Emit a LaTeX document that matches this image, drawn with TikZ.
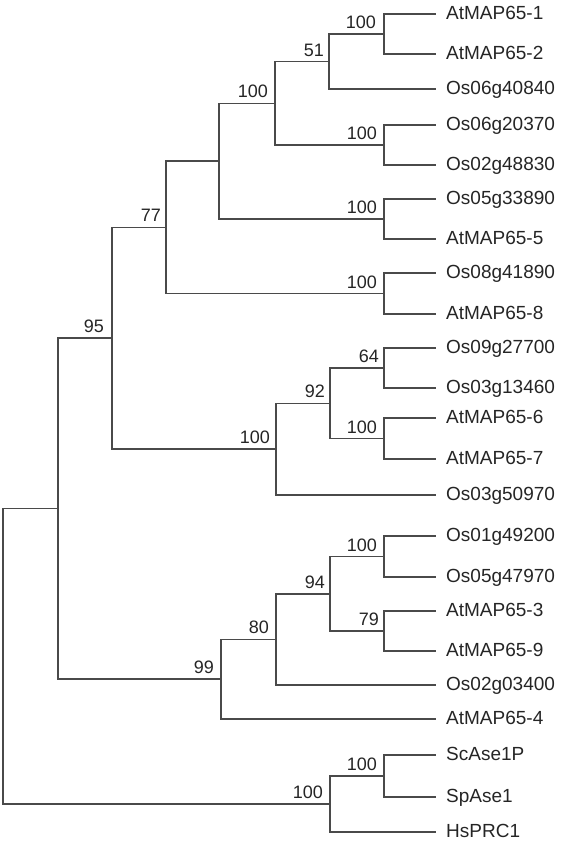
\documentclass[tikz,border=0pt]{standalone}
\usepackage{fontspec}
\setmainfont{Liberation Sans}
\definecolor{lineC}{HTML}{4A4A4A}
\definecolor{textC}{HTML}{252525}
\begin{document}
\begin{tikzpicture}[x=1pt,y=-1pt,
  branch/.style={draw=lineC,line width=1.5pt,line cap=rect},
  leaf/.style={anchor=west,inner xsep=11pt,inner ysep=0pt,text height=13.6pt,text depth=2.6pt,
    font=\fontsize{19}{19}\selectfont,text=textC},
  boot/.style={anchor=base east,inner sep=0pt,font=\fontsize{18}{18}\selectfont,text=textC}]
\useasboundingbox (0,0) rectangle (560,844);
% leaves
\node[leaf] (l1) at (435,14) {AtMAP65-1};
\node[leaf] (l2) at (435,54) {AtMAP65-2};
\node[leaf] (l3) at (435,89) {Os06g40840};
\node[leaf] (l4) at (435,125) {Os06g20370};
\node[leaf] (l5) at (435,165) {Os02g48830};
\node[leaf] (l6) at (435,199) {Os05g33890};
\node[leaf] (l7) at (435,239) {AtMAP65-5};
\node[leaf] (l8) at (435,273) {Os08g41890};
\node[leaf] (l9) at (435,314) {AtMAP65-8};
\node[leaf] (l10) at (435,348) {Os09g27700};
\node[leaf] (l11) at (435,388) {Os03g13460};
\node[leaf] (l12) at (435,418) {AtMAP65-6};
\node[leaf] (l13) at (435,459) {AtMAP65-7};
\node[leaf] (l14) at (435,495) {Os03g50970};
\node[leaf] (l15) at (435,536) {Os01g49200};
\node[leaf] (l16) at (435,577) {Os05g47970};
\node[leaf] (l17) at (435,611) {AtMAP65-3};
\node[leaf] (l18) at (435,651) {AtMAP65-9};
\node[leaf] (l19) at (435,685) {Os02g03400};
\node[leaf] (l20) at (435,719) {AtMAP65-4};
\node[leaf] (l21) at (435,755) {ScAse1P};
\node[leaf] (l22) at (435,797) {SpAse1};
\node[leaf] (l23) at (435,832) {HsPRC1};
% internal nodes
\coordinate (A) at (384,34);
\coordinate (B) at (329,61.5);
\coordinate (C) at (384,145);
\coordinate (D) at (275,103.25);
\coordinate (E) at (384,219);
\coordinate (F) at (219,161.1);
\coordinate (G) at (384,293.5);
\coordinate (H) at (166,227.3);
\coordinate (I) at (384,368);
\coordinate (J) at (384,438.5);
\coordinate (K) at (330,403.25);
\coordinate (L) at (276,449.1);
\coordinate (M) at (112,338.2);
\coordinate (N) at (384,556.5);
\coordinate (O) at (384,631);
\coordinate (P) at (330,593.75);
\coordinate (Q) at (276,639.4);
\coordinate (R) at (221,679.2);
\coordinate (S) at (58,508.7);
\coordinate (T) at (384,776);
\coordinate (U) at (330,804);
\coordinate (root) at (3,656);
% branches
\draw[branch] (l1.west) -| (A) |- (l2.west);
\draw[branch] (A) -| (B) |- (l3.west);
\draw[branch] (l4.west) -| (C) |- (l5.west);
\draw[branch] (B) -| (D) |- (C);
\draw[branch] (l6.west) -| (E) |- (l7.west);
\draw[branch] (D) -| (F) |- (E);
\draw[branch] (l8.west) -| (G) |- (l9.west);
\draw[branch] (F) -| (H) |- (G);
\draw[branch] (l10.west) -| (I) |- (l11.west);
\draw[branch] (l12.west) -| (J) |- (l13.west);
\draw[branch] (I) -| (K) |- (J);
\draw[branch] (K) -| (L) |- (l14.west);
\draw[branch] (H) -| (M) |- (L);
\draw[branch] (l15.west) -| (N) |- (l16.west);
\draw[branch] (l17.west) -| (O) |- (l18.west);
\draw[branch] (N) -| (P) |- (O);
\draw[branch] (P) -| (Q) |- (l19.west);
\draw[branch] (Q) -| (R) |- (l20.west);
\draw[branch] (M) -| (S) |- (R);
\draw[branch] (l21.west) -| (T) |- (l22.west);
\draw[branch] (T) -| (U) |- (l23.west);
\draw[branch] (S) -| (root) |- (U);
% bootstrap values
\node[boot] (bA) at ([xshift=-8pt,yshift=5.5pt]A) {100};
\node[boot] (bB) at ([xshift=-5pt,yshift=5.5pt]B) {51};
\node[boot] (bC) at ([xshift=-7pt,yshift=5.5pt]C) {100};
\node[boot] (bD) at ([xshift=-7pt,yshift=5.5pt]D) {100};
\node[boot] (bE) at ([xshift=-7pt,yshift=5.5pt]E) {100};
\node[boot] (bG) at ([xshift=-7pt,yshift=5.5pt]G) {100};
\node[boot] (bH) at ([xshift=-5pt,yshift=5.5pt]H) {77};
\node[boot] (bI) at ([xshift=-5pt,yshift=5.5pt]I) {64};
\node[boot] (bJ) at ([xshift=-7pt,yshift=5.5pt]J) {100};
\node[boot] (bK) at ([xshift=-5pt,yshift=5.5pt]K) {92};
\node[boot] (bL) at ([xshift=-6pt,yshift=5.5pt]L) {100};
\node[boot] (bM) at ([xshift=-8pt,yshift=5.5pt]M) {95};
\node[boot] (bN) at ([xshift=-7pt,yshift=5.5pt]N) {100};
\node[boot] (bO) at ([xshift=-5pt,yshift=5.5pt]O) {79};
\node[boot] (bP) at ([xshift=-5pt,yshift=5.5pt]P) {94};
\node[boot] (bQ) at ([xshift=-7pt,yshift=5.5pt]Q) {80};
\node[boot] (bR) at ([xshift=-7pt,yshift=5.5pt]R) {99};
\node[boot] (bT) at ([xshift=-7pt,yshift=5.5pt]T) {100};
\node[boot] (bU) at ([xshift=-7pt,yshift=5.5pt]U) {100};
\end{tikzpicture}
\end{document}
